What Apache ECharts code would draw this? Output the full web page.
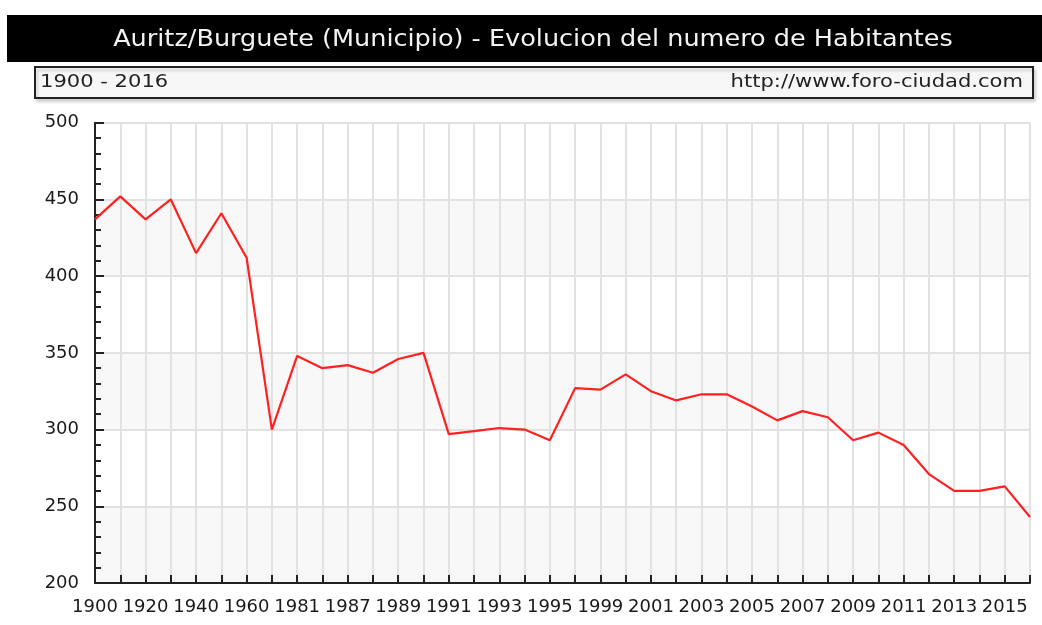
<!DOCTYPE html>
<html>
<head>
<meta charset="utf-8">
<script src="https://cdn.jsdelivr.net/npm/echarts@6/dist/echarts.min.js"></script>
<style>
html,body{margin:0;padding:0;background:#fff;}
#chart{width:1042px;height:625px;}
</style>
</head>
<body>
<div id="chart"></div>
<script>
const titleText = 'Auritz/Burguete (Municipio) - Evolucion del numero de Habitantes';
const rangeText = '1900 - 2016';
const siteText = 'http://www.foro-ciudad.com';
const years = ['1900','1910','1920','1930','1940','1950','1960','1970','1981','1986','1987','1988','1989','1990','1991','1992','1993','1994','1995','1996','1999','2000','2001','2002','2003','2004','2005','2006','2007','2008','2009','2010','2011','2012','2013','2014','2015','2016'];
const habitantes = [437,452,437,450,415,441,412,300,348,340,342,337,346,350,297,299,301,300,293,327,326,336,325,319,323,323,315,306,312,308,293,298,290,271,260,260,263,243];
const yMin = 200, yMax = 500, yStep = 50;

const chart = echarts.init(document.getElementById('chart'), null, {renderer:'canvas'});
chart.setOption({
  animation:false,
  backgroundColor:'#fff',
  graphic:[
    {type:'rect', shape:{x:7,y:15,width:1035,height:47}, style:{fill:'#000'}},
    {type:'text', x:533, y:40, scaleX:1.11, style:{text:titleText, fill:'#f2f2f2', fontFamily:'DejaVu Sans', fontSize:23, align:'center', verticalAlign:'middle'}},
    {type:'rect', shape:{x:35,y:67,width:998,height:31}, style:{fill:'#f7f7f7', stroke:'#222', lineWidth:2, shadowColor:'rgba(0,0,0,0.15)', shadowBlur:3, shadowOffsetY:3, shadowOffsetX:2}},
    {type:'text', x:40, y:82, scaleX:1.17, style:{text:rangeText, fill:'#222', fontFamily:'DejaVu Sans', fontSize:18, align:'left', verticalAlign:'middle'}},
    {type:'text', x:1023, y:82, scaleX:1.17, style:{text:siteText, fill:'#222', fontFamily:'DejaVu Sans', fontSize:18, align:'right', verticalAlign:'middle'}}
  ],
  grid:{left:95, right:12, top:122.7, bottom:42, containLabel:false},
  xAxis:{
    type:'category', data:years, boundaryGap:false,
    axisLine:{lineStyle:{color:'#222', width:2}},
    axisTick:{show:true, inside:true, length:8, interval:0, lineStyle:{color:'#222', width:2}},
    axisLabel:{interval:1, color:'#1a1a1a', fontFamily:'DejaVu Sans', fontSize:18, margin:15},
    splitLine:{show:true, interval:0, lineStyle:{color:'#e2e2e2', width:2}}
  },
  yAxis:{
    type:'value', min:yMin, max:yMax, interval:yStep,
    axisLine:{show:true, lineStyle:{color:'#222', width:2}},
    axisTick:{show:true, inside:true, length:9, lineStyle:{color:'#222', width:2}},
    minorTick:{show:true, splitNumber:5, length:6, lineStyle:{color:'#222', width:2}},
    axisLabel:{color:'#1a1a1a', fontFamily:'DejaVu Sans', fontSize:18, margin:16},
    splitLine:{show:true, lineStyle:{color:'#e2e2e2', width:2}},
    splitArea:{show:true, areaStyle:{color:['#f8f8f8','#ffffff']}}
  },
  series:[{
    type:'line', data:habitantes, showSymbol:false, symbol:'none',
    lineStyle:{color:'#ff2020', width:2.2}
  }]
});
</script>
</body>
</html>
